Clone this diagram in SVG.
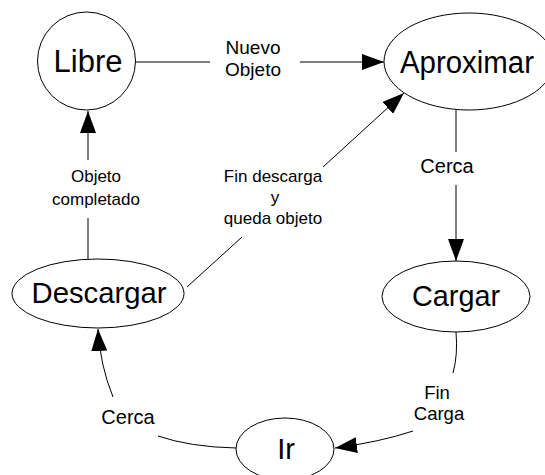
<svg xmlns="http://www.w3.org/2000/svg" width="545" height="475" viewBox="0 0 545 475">
  <style>
    .shape { fill: #ffffff; stroke: #000000; stroke-width: 1; }
    .edge { fill: none; stroke: #000000; stroke-width: 1; }
    .big { font-family: "Liberation Sans", Arial, sans-serif; fill: #000000; text-anchor: middle; }
    .lbl { font-family: "Liberation Sans", Arial, sans-serif; font-size: 17px; fill: #000000; text-anchor: middle; }
  </style>
  <defs>
    <marker id="arrow" viewBox="0 0 22 16" refX="22" refY="8" markerWidth="22" markerHeight="16" markerUnits="userSpaceOnUse" orient="auto">
      <path d="M0,0 L22,8 L0,16 Z" fill="#000000"/>
    </marker>
  </defs>
  <rect width="545" height="475" fill="#ffffff"/>

  <g id="connectors">
    <!-- Libre -> Aproximar -->
    <line class="edge" x1="135" y1="62" x2="210" y2="62"/>
    <line class="edge" x1="300" y1="62" x2="384" y2="62" marker-end="url(#arrow)"/>
    <text class="lbl" x="253" y="54" style="font-size:19px">Nuevo</text>
    <text class="lbl" x="253" y="76" style="font-size:19px">Objeto</text>

    <!-- Aproximar -> Cargar -->
    <line class="edge" x1="456" y1="110" x2="456" y2="152"/>
    <line class="edge" x1="456" y1="185" x2="456" y2="261" marker-end="url(#arrow)"/>
    <text class="lbl" x="447" y="173" style="font-size:20px">Cerca</text>

    <!-- Cargar -> Ir -->
    <path class="edge" d="M456,332 Q458,355 453,373"/>
    <path class="edge" d="M413,431 Q380,442 335,448" marker-end="url(#arrow)"/>
    <text class="lbl" x="437" y="399" style="font-size:18.5px">Fin</text>
    <text class="lbl" x="439" y="420" style="font-size:18.5px">Carga</text>

    <!-- Ir -> Descargar -->
    <path class="edge" d="M236,448 Q190,447 158,436"/>
    <path class="edge" d="M113,397 Q100,365 98,329" marker-end="url(#arrow)"/>
    <text class="lbl" x="128" y="424" style="font-size:20px">Cerca</text>

    <!-- Descargar -> Libre -->
    <line class="edge" x1="88" y1="259" x2="88" y2="218"/>
    <line class="edge" x1="88" y1="160" x2="88" y2="111" marker-end="url(#arrow)"/>
    <text class="lbl" x="96" y="182">Objeto</text>
    <text class="lbl" x="96" y="205">completado</text>

    <!-- Descargar -> Aproximar -->
    <line class="edge" x1="187" y1="287" x2="242" y2="237"/>
    <line class="edge" x1="323" y1="167" x2="404" y2="93" marker-end="url(#arrow)"/>
    <text class="lbl" x="273" y="182">Fin descarga</text>
    <text class="lbl" x="275" y="203">y</text>
    <text class="lbl" x="273" y="224">queda objeto</text>
  </g>

  <g id="libre">
    <circle class="shape" cx="86.5" cy="61" r="49"/>
    <text class="big" x="88" y="72" font-size="31">Libre</text>
  </g>
  <g id="aproximar">
    <ellipse class="shape" cx="469" cy="61.5" rx="85" ry="48.5"/>
    <text class="big" x="467" y="73" font-size="31" textLength="134" lengthAdjust="spacingAndGlyphs">Aproximar</text>
  </g>
  <g id="descargar">
    <ellipse class="shape" cx="98" cy="293.5" rx="86" ry="34.5"/>
    <text class="big" x="99" y="303" font-size="29" textLength="135" lengthAdjust="spacingAndGlyphs">Descargar</text>
  </g>
  <g id="cargar">
    <ellipse class="shape" cx="456" cy="296.5" rx="74" ry="35.5"/>
    <text class="big" x="456" y="306" font-size="29" textLength="88" lengthAdjust="spacingAndGlyphs">Cargar</text>
  </g>
  <g id="ir">
    <ellipse class="shape" cx="285" cy="449" rx="49" ry="31"/>
    <text class="big" x="286" y="459" font-size="29">Ir</text>
  </g>
</svg>
